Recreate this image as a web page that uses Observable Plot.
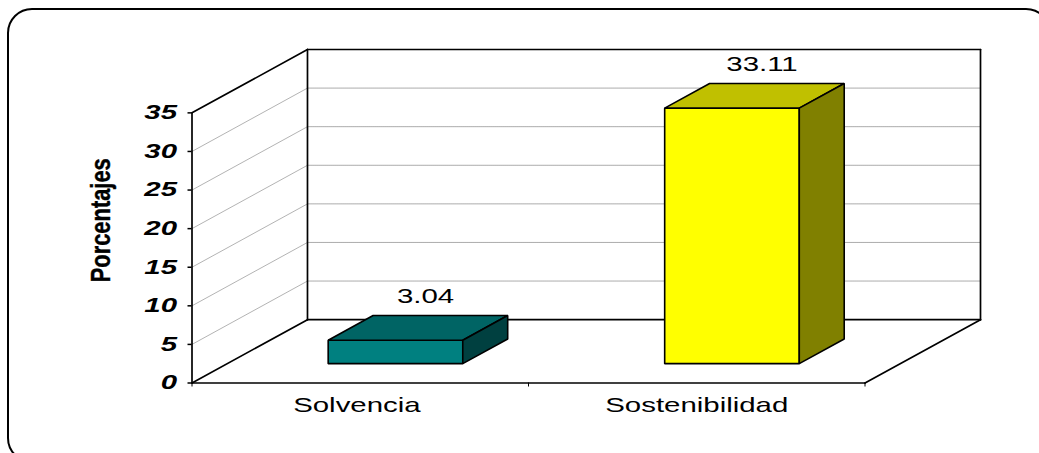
<!DOCTYPE html>
<html lang="es">
<head>
<meta charset="utf-8">
<title>Porcentajes</title>
<script src="https://cdn.jsdelivr.net/npm/d3@7"></script>
<script src="https://cdn.jsdelivr.net/npm/@observablehq/plot@0.6"></script>
<style>
  html, body { margin: 0; padding: 0; background: #fff; width: 1039px; height: 453px; overflow: hidden; }
  #panel { position: absolute; left: 7px; top: 8px; width: 1040px; height: 451px; border: 2px solid #000; border-radius: 25px; }
  #chart { position: absolute; left: 0; top: 0; }
  svg text { font-family: "Liberation Sans", Arial, sans-serif; }
</style>
</head>
<body>
<div id="panel"></div>
<div id="chart"></div>
<script>
// Chart values
const categories = ["Solvencia", "Sostenibilidad"];
const values = [3.04, 33.11];
const valueLabels = ["3.04", "33.11"];
const yTicks = [0, 5, 10, 15, 20, 25, 30, 35];
const xTicks = [0, 1, 2];
const categoryCenters = [0.49, 1.5];
const frontColors = ["#008080", "#ffff00"];
const topColors = ["#006464", "#c0c000"];
const sideColors = ["#004040", "#808000"];

// Oblique projection of the 3D box: depth w (0 = front, 1 = back wall)
// shifts a point along both the category axis and the value axis.
const depthX = 0.3432;
const depthY = 8.21;
const px = (u, w) => u + w * depthX;
const py = (v, w) => v + w * depthY;

const barStart = 0.3, barEnd = 0.7;
const barFront = 0.305, barBack = 0.694;

const yMax = d3.max(yTicks);
const uMax = categories.length;

// Bar faces, as closed polygons
const faces = [];
categories.forEach((c, i) => {
  const u0 = i + barStart, u1 = i + barEnd, v = values[i];
  const add = (name, color, corners) =>
    corners.forEach(([u, val, w]) => faces.push({face: c + name, color, x: px(u, w), y: py(val, w)}));
  add("front", frontColors[i], [[u0, 0, barFront], [u1, 0, barFront], [u1, v, barFront], [u0, v, barFront]]);
  add("top", topColors[i], [[u0, v, barFront], [u1, v, barFront], [u1, v, barBack], [u0, v, barBack]]);
  add("side", sideColors[i], [[u1, 0, barFront], [u1, 0, barBack], [u1, v, barBack], [u1, v, barFront]]);
});

// Gridlines on the back wall and the side wall
const inner = yTicks.filter((t) => t > 0 && t < yMax);
const backGrid = inner.flatMap((t) => [
  {k: t, x: px(0, 1), y: py(t, 1)},
  {k: t, x: px(uMax, 1), y: py(t, 1)}
]);
const sideGrid = inner.flatMap((t) => [
  {k: t, x: px(0, 0), y: py(t, 0)},
  {k: t, x: px(0, 1), y: py(t, 1)}
]);

// Outline of the box
const outline = [
  [[0, 0, 0], [0, yMax, 0]],
  [[0, yMax, 0], [0, yMax, 1]],
  [[0, 0, 1], [0, yMax, 1]],
  [[0, yMax, 1], [uMax, yMax, 1]],
  [[uMax, 0, 1], [uMax, yMax, 1]],
  [[0, 0, 1], [uMax, 0, 1]],
  [[0, 0, 0], [0, 0, 1]],
  [[uMax, 0, 0], [uMax, 0, 1]],
  [[0, 0, 0], [uMax, 0, 0]]
].flatMap((edge, k) => edge.map(([u, v, w]) => ({k, x: px(u, w), y: py(v, w)})));

const valueRows = categories.map((c, i) => ({
  label: valueLabels[i],
  x: px(i + 0.5, 0.565),
  y: py(values[i], 0.565)
}));
const categoryRows = categories.map((c, i) => ({label: c, x: categoryCenters[i]}));

const plot = Plot.plot({
  width: 1039,
  height: 453,
  marginLeft: 191.5,
  marginRight: 59,
  marginTop: 49,
  marginBottom: 70.5,
  style: {background: "transparent", overflow: "visible"},
  x: {domain: [0, uMax + depthX], axis: null},
  y: {domain: [0, yMax + depthY], axis: null},
  marks: [
    Plot.line(sideGrid, {x: "x", y: "y", z: "k", stroke: "#a0a0a0", strokeWidth: 0.8}),
    Plot.line(backGrid, {x: "x", y: "y", z: "k", stroke: "#8a8a8a", strokeWidth: 0.8, strokeDasharray: "1 1"}),
    Plot.line(outline, {x: "x", y: "y", z: "k", stroke: "#000", strokeWidth: 1.7}),
    Plot.line(faces, {x: "x", y: "y", z: "face", fill: "color", stroke: "#000", strokeWidth: 1.6, curve: "linear-closed", strokeLinejoin: "miter"}),
    Plot.axisY({
      ticks: yTicks, anchor: "left", label: null, tickSize: 4, tickPadding: 11,
      fontSize: 20, fontWeight: "bold", fontStyle: "italic", strokeWidth: 1.5, fill: "#000"
    }),
    Plot.axisX({
      ticks: xTicks, anchor: "bottom", label: null, tickSize: 4, strokeWidth: 1, tickFormat: () => ""
    }),
    Plot.text(categoryRows, {
      x: "x", y: 0, text: "label", dy: 29, lineAnchor: "bottom", fontSize: 21, fill: "#000", className: "wide"
    }),
    Plot.text(valueRows, {
      x: "x", y: "y", text: "label", dy: -21, lineAnchor: "bottom", fontSize: 21, fill: "#000", className: "wide"
    }),
    Plot.text(["Porcentajes"], {
      frameAnchor: "left", text: (d) => d, rotate: -90, dx: -91, dy: 66, fontSize: 27, fontWeight: "bold",
      fill: "#000", stroke: "#000", strokeWidth: 0.4, className: "narrow"
    })
  ]
});
document.getElementById("chart").append(plot);

// The chart's lettering is scaled along its reading direction: wide for the
// numbers and category names, condensed for the axis title.
const scaleLetters = (selector, factor) => {
  plot.querySelectorAll(selector).forEach((t) => {
    t.setAttribute("textLength", t.getComputedTextLength() * factor);
    t.setAttribute("lengthAdjust", "spacingAndGlyphs");
  });
};
scaleLetters('[aria-label="y-axis tick label"] text', 1.47);
scaleLetters(".wide text", 1.4);
scaleLetters(".narrow text", 0.81);
</script>
</body>
</html>
